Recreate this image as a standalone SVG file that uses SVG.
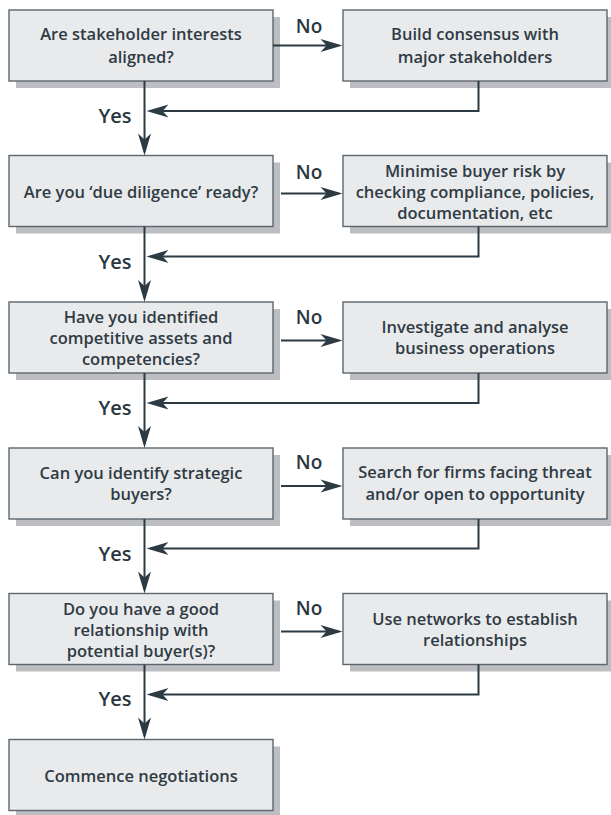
<svg xmlns="http://www.w3.org/2000/svg" width="611" height="815" viewBox="0 0 611 815">
<style>
.sh{fill:#bcbec1;stroke:none}
.bx{fill:#e9eaec;stroke:#5c666e;stroke-width:1.4}
.t{font-family:"Open Sans","Noto Sans",sans-serif;font-size:16.5px;font-weight:600;fill:#2f3b44;text-anchor:middle}
.lb{font-family:"Open Sans","Noto Sans",sans-serif;font-weight:600;fill:#2a3740;text-anchor:middle}
.no{font-size:19px}
.yes{font-size:20px}
.c{fill:none;stroke:#2b3a43;stroke-width:2}
</style>
<defs>
<marker id="ah" markerUnits="userSpaceOnUse" viewBox="-23 -7 24 14" markerWidth="24" markerHeight="14" refX="-4" refY="0" orient="auto">
<path d="M0,0 L-22,-6.5 L-16,0 L-22,6.5 Z" fill="#2b3a43"/>
</marker>
</defs>

<g id="q1"><rect class="sh" x="16" y="17" width="264" height="71"/><rect class="bx" x="9" y="10" width="264" height="71"/>
<text class="t" x="141" y="40">Are stakeholder interests</text><text class="t" x="141" y="62.5">aligned?</text></g>
<g id="a1"><rect class="sh" x="350" y="17" width="264" height="71"/><rect class="bx" x="343" y="10" width="264" height="71"/>
<text class="t" x="475" y="40">Build consensus with</text><text class="t" x="475" y="62.5">major stakeholders</text></g>

<g id="q2"><rect class="sh" x="16" y="162.5" width="264" height="71"/><rect class="bx" x="9" y="155.5" width="264" height="71"/>
<text class="t" x="141" y="197.5">Are you ‘due diligence’ ready?</text></g>
<g id="a2"><rect class="sh" x="350" y="162.5" width="264" height="71"/><rect class="bx" x="343" y="155.5" width="264" height="71"/>
<text class="t" x="475" y="176.5">Minimise buyer risk by</text><text class="t" x="475" y="198">checking compliance, policies,</text><text class="t" x="475" y="219">documentation, etc</text></g>

<g id="q3"><rect class="sh" x="16" y="309" width="264" height="71"/><rect class="bx" x="9" y="302" width="264" height="71"/>
<text class="t" x="141" y="322.5">Have you identified</text><text class="t" x="141" y="344">competitive assets and</text><text class="t" x="141" y="365">competencies?</text></g>
<g id="a3"><rect class="sh" x="350" y="309" width="264" height="71"/><rect class="bx" x="343" y="302" width="264" height="71"/>
<text class="t" x="475" y="332.5">Investigate and analyse</text><text class="t" x="475" y="353.5">business operations</text></g>

<g id="q4"><rect class="sh" x="16" y="455" width="264" height="71"/><rect class="bx" x="9" y="448" width="264" height="71"/>
<text class="t" x="141" y="478.5">Can you identify strategic</text><text class="t" x="141" y="500">buyers?</text></g>
<g id="a4"><rect class="sh" x="350" y="455" width="264" height="71"/><rect class="bx" x="343" y="448" width="264" height="71"/>
<text class="t" x="475" y="477.5">Search for firms facing threat</text><text class="t" x="475" y="500">and/or open to opportunity</text></g>

<g id="q5"><rect class="sh" x="16" y="600.5" width="264" height="71"/><rect class="bx" x="9" y="593.5" width="264" height="71"/>
<text class="t" x="141" y="614.5">Do you have a good</text><text class="t" x="141" y="636">relationship with</text><text class="t" x="141" y="657">potential buyer(s)?</text></g>
<g id="a5"><rect class="sh" x="350" y="600.5" width="264" height="71"/><rect class="bx" x="343" y="593.5" width="264" height="71"/>
<text class="t" x="475" y="625">Use networks to establish</text><text class="t" x="475" y="646">relationships</text></g>

<g id="end"><rect class="sh" x="16" y="746.5" width="264" height="71"/><rect class="bx" x="9" y="739.5" width="264" height="71"/>
<text class="t" x="141" y="781.5">Commence negotiations</text></g>

<g id="connectors">
<path class="c" d="M144.5,81 V151.5" marker-end="url(#ah)"/>
<path class="c" d="M144.5,226.5 V298" marker-end="url(#ah)"/>
<path class="c" d="M144.5,373 V444" marker-end="url(#ah)"/>
<path class="c" d="M144.5,519 V589.5" marker-end="url(#ah)"/>
<path class="c" d="M144.5,664.5 V735.5" marker-end="url(#ah)"/>

<path class="c" d="M273,45.5 H338.5" marker-end="url(#ah)"/>
<path class="c" d="M281,193.5 H338.5" marker-end="url(#ah)"/>
<path class="c" d="M281,340.5 H338.5" marker-end="url(#ah)"/>
<path class="c" d="M281,486 H338.5" marker-end="url(#ah)"/>
<path class="c" d="M281,631.5 H338.5" marker-end="url(#ah)"/>

<path class="c" d="M478.5,81 V111 H150.5" marker-end="url(#ah)"/>
<path class="c" d="M478.5,226.5 V256.5 H150.5" marker-end="url(#ah)"/>
<path class="c" d="M478.5,373 V403 H150.5" marker-end="url(#ah)"/>
<path class="c" d="M478.5,519 V548.5 H150.5" marker-end="url(#ah)"/>
<path class="c" d="M478.5,664.5 V694.5 H150.5" marker-end="url(#ah)"/>

<text class="lb no" x="309" y="33">No</text>
<text class="lb no" x="309" y="178.5">No</text>
<text class="lb no" x="309" y="323.5">No</text>
<text class="lb no" x="309" y="468.5">No</text>
<text class="lb no" x="309" y="615">No</text>

<text class="lb yes" x="115" y="123">Yes</text>
<text class="lb yes" x="115" y="268.5">Yes</text>
<text class="lb yes" x="115" y="415">Yes</text>
<text class="lb yes" x="115" y="560.5">Yes</text>
<text class="lb yes" x="115" y="706">Yes</text>
</g>
</svg>
